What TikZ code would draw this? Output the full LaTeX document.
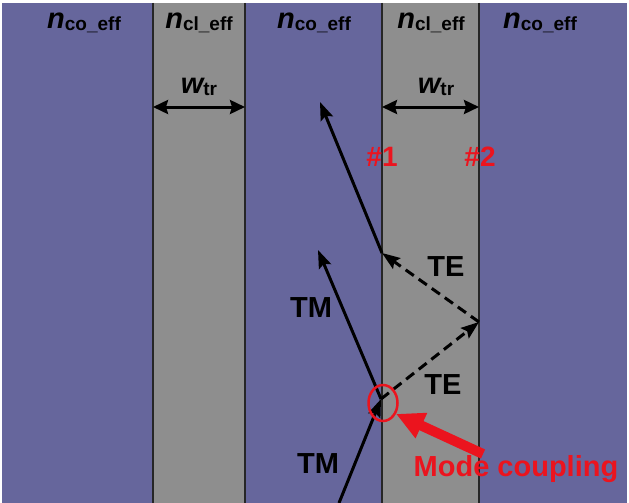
\documentclass[tikz,border=0pt]{standalone}
\usepackage{fontspec}
\setmainfont{Liberation Sans}
\usepackage{xcolor}
\usepackage{tikz}
\usetikzlibrary{positioning,shapes,arrows.meta,calc}

\definecolor{coreblue}{RGB}{102,102,156}
\definecolor{cladgray}{RGB}{142,142,142}
\definecolor{markred}{RGB}{235,20,30}

\newcommand{\nlabel}[1]{{\fontsize{29}{29}\selectfont\bfseries\itshape n}\raisebox{-2pt}{\fontsize{19}{19}\selectfont\bfseries #1}}
\newcommand{\wlabel}{{\fontsize{29}{29}\selectfont\bfseries\itshape w}\raisebox{-2pt}{\fontsize{19}{19}\selectfont\bfseries tr}}

\tikzset{
  ray/.style={line width=3pt, -{Stealth[length=18pt,width=13pt,inset=3pt]}},
  tray/.style={ray, dash pattern=on 10pt off 6pt},
  wdim/.style={line width=3pt, {Stealth[length=15pt,width=14pt,inset=2pt]}-{Stealth[length=15pt,width=14pt,inset=2pt]}},
  modetxt/.style={font=\fontsize{29}{29}\selectfont\bfseries},
  redtxt/.style={font=\fontsize{28}{28}\selectfont\bfseries, text=markred}
}

\begin{document}
\begin{tikzpicture}[x=1pt,y=-1pt]
    \useasboundingbox (0,0) rectangle (629,503);
    \fill[white] (0,0) rectangle (629,503);
    % core and cladding strips
    \fill[coreblue] (2,3) rectangle (627,503);
    \fill[cladgray] (153,3) rectangle (245,503);
    \fill[cladgray] (382,3) rectangle (479,503);
    \draw[line width=2.5pt, black!85] (153,3) -- (153,503);
    \draw[line width=2.5pt, black!85] (245,3) -- (245,503);
    \draw[line width=2.5pt, black!85] (382,3) -- (382,503);
    \draw[line width=2.5pt, black!85] (479,3) -- (479,503);

    % index labels
    \node (nco1) at (84,23) {\nlabel{co\_eff}};
    \node (ncl1) at (199,23) {\nlabel{cl\_eff}};
    \node (nco2) at (314,23) {\nlabel{co\_eff}};
    \node (ncl2) at (431,23) {\nlabel{cl\_eff}};
    \node (nco3) at (540,23) {\nlabel{co\_eff}};

    % widths
    \coordinate (wa1) at (153,107);
    \coordinate (wb1) at (245,107);
    \coordinate (wa2) at (382,107);
    \coordinate (wb2) at (479,107);
    \draw[wdim] (wa1) -- (wb1);
    \draw[wdim] (wa2) -- (wb2);
    \node (w1) at (199,87) {\wlabel};
    \node (w2) at (436,87) {\wlabel};

    \node[redtxt] (b1) at (382,157) {\#1};
    \node[redtxt] (b2) at (480,157) {\#2};

    % rays
    \coordinate (src) at (339,503);
    \coordinate (cp) at (381,399);
    \coordinate (tm) at (318,250);
    \coordinate (r2) at (479,322);
    \coordinate (r1) at (382,253);
    \coordinate (out) at (320,102);
    \draw[ray] (src) -- (cp);
    \draw[ray] (cp) -- (tm);
    \draw[tray] (cp) -- (r2);
    \draw[tray] (r2) -- (r1);
    \draw[ray] (r1) -- (out);

    \node[modetxt] (tm1) at (311,308) {TM};
    \node[modetxt] (tm2) at (318,464) {TM};
    \node[modetxt] (te1) at (446,267) {TE};
    \node[modetxt] (te2) at (443,385) {TE};

    % mode coupling
    \node[draw=markred, line width=2.5pt, ellipse, minimum width=29pt, minimum height=36pt, inner sep=0pt] (ring) at (383,403) {};
    \coordinate (tail) at (483,454);
    \draw[markred, line width=10pt, -{Triangle[length=28pt,width=26pt]}] (tail) -- (ring.-40);
    \node[font=\fontsize{29}{29}\selectfont\bfseries, text=markred] (mc) at (516,469) {Mode coupling};
\end{tikzpicture}
\end{document}
